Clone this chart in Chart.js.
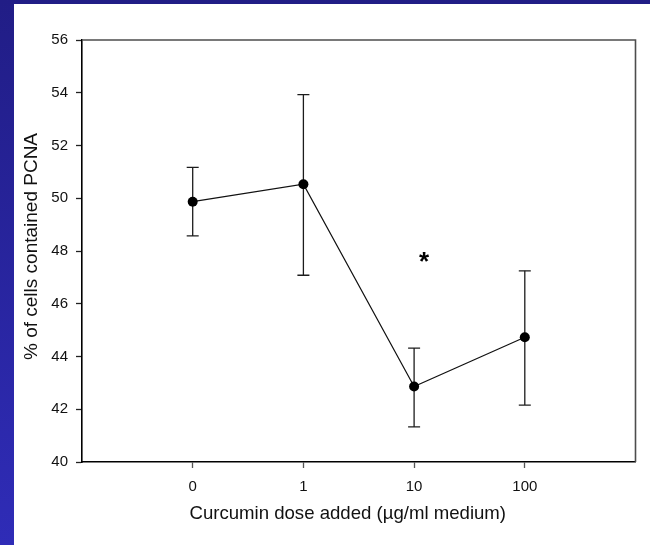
<!DOCTYPE html>
<html>
<head>
<meta charset="utf-8">
<script src="https://cdn.jsdelivr.net/npm/chart.js@4/dist/chart.umd.min.js"></script>
<style>
  html, body { margin: 0; padding: 0; }
  #frame {
    position: relative;
    width: 650px;
    height: 545px;
    background: linear-gradient(to bottom, #211d86, #2f2cb7);
    overflow: hidden;
  }
  #wrap {
    position: absolute;
    left: 14px;
    top: 4px;
    width: 636px;
    height: 541px;
    background: #ffffff;
  }
</style>
</head>
<body>
<div id="frame">
  <div id="wrap"><canvas id="chart" width="636" height="541"></canvas></div>
</div>
<script>
// Curcumin dose groups (µg/ml medium) and their tick labels
const doseLabels = ['0', '1', '10', '100'];
const dosePositions = [0, 1, 2, 3];

// Mean % of cells containing PCNA, with upper and lower error limits
const meanPCNA = [49.87, 50.53, 42.86, 44.73];
const upperPCNA = [51.17, 53.93, 44.32, 47.25];
const lowerPCNA = [48.57, 47.08, 41.33, 42.16];

// Y axis tick values
const yTicks = [40, 42, 44, 46, 48, 50, 52, 54, 56];

// Axis titles
const xTitle = 'Curcumin dose added (µg/ml medium)';
const yTitle = '% of cells contained PCNA';

// Significance mark placed above the 10 µg/ml group
const significanceMark = { text: '*', x: 2.09, y: 47.76 };

const FONT = "'Liberation Sans', Arial, Helvetica, sans-serif";

const mainData = dosePositions.map((x, i) => ({ x, y: meanPCNA[i] }));

const errorSets = dosePositions.map((x, i) => ({
  type: 'line',
  data: [{ x, y: lowerPCNA[i] }, { x, y: upperPCNA[i] }],
  showLine: true,
  borderColor: '#1c1c1c',
  borderWidth: 1.3,
  pointStyle: 'line',
  pointRadius: 6,
  pointBorderWidth: 1.3,
  pointBorderColor: '#1c1c1c',
  pointBackgroundColor: '#1c1c1c',
  pointHoverRadius: 6
}));

// Top and right edges of the frame, axis titles and the significance asterisk
const frameAndMarks = {
  id: 'frameAndMarks',
  afterDatasetsDraw(chart) {
    const { ctx, chartArea, scales } = chart;
    ctx.save();
    ctx.strokeStyle = '#4d4d4d';
    ctx.lineWidth = 1.6;
    ctx.beginPath();
    ctx.moveTo(chartArea.left, chartArea.top);
    ctx.lineTo(chartArea.right, chartArea.top);
    ctx.lineTo(chartArea.right, chartArea.bottom);
    ctx.stroke();

    const px = scales.x.getPixelForValue(significanceMark.x);
    const py = scales.y.getPixelForValue(significanceMark.y);
    ctx.font = 'bold 26px ' + FONT;
    ctx.fillStyle = '#000';
    ctx.textAlign = 'center';
    ctx.textBaseline = 'alphabetic';
    const m = ctx.measureText(significanceMark.text);
    const asc = m.actualBoundingBoxAscent;
    const desc = m.actualBoundingBoxDescent;
    ctx.fillText(significanceMark.text, px, py + (asc - desc) / 2);

    // x axis title
    ctx.fillStyle = '#111';
    ctx.font = '18.6px ' + FONT;
    ctx.textAlign = 'center';
    ctx.textBaseline = 'alphabetic';
    ctx.fillText(xTitle, (chartArea.left + chartArea.right) / 2 - 11, chartArea.bottom + 57.3);

    // y axis title, reading bottom to top
    ctx.font = '19px ' + FONT;
    ctx.translate(chartArea.left - 45.3, (chartArea.top + chartArea.bottom) / 2 - 4.5);
    ctx.rotate(-Math.PI / 2);
    ctx.fillText(yTitle, 0, 0);
    ctx.restore();
  }
};

new Chart(document.getElementById('chart'), {
  type: 'scatter',
  data: {
    datasets: [
      {
        type: 'line',
        data: mainData,
        showLine: true,
        borderColor: '#111',
        borderWidth: 1.2,
        pointRadius: 5,
        pointHoverRadius: 5,
        pointBackgroundColor: '#000',
        pointBorderColor: '#000',
        pointBorderWidth: 0
      },
      ...errorSets
    ]
  },
  options: {
    responsive: false,
    animation: false,
    events: [],
    layout: { padding: { top: 36, right: 14.5, left: 0, bottom: 0 } },
    plugins: {
      legend: { display: false },
      tooltip: { enabled: false }
    },
    scales: {
      x: {
        type: 'linear',
        min: -1,
        max: 4,
        afterBuildTicks(scale) {
          scale.ticks = dosePositions.map(v => ({ value: v }));
        },
        afterFit(scale) { scale.height = 83; },
        grid: {
          drawOnChartArea: false,
          drawTicks: true,
          tickLength: 6,
          tickColor: '#555',
          tickWidth: 1.3
        },
        border: { display: true, color: '#000', width: 1.6 },
        ticks: {
          padding: 10,
          color: '#111',
          font: { family: FONT, size: 15 },
          maxRotation: 0,
          callback(value) {
            const i = dosePositions.indexOf(value);
            return i >= 0 ? doseLabels[i] : '';
          }
        },
        title: { display: false }
      },
      y: {
        min: 40,
        max: 56,
        afterBuildTicks(scale) {
          scale.ticks = yTicks.map(v => ({ value: v }));
        },
        afterFit(scale) { scale.width = 68; },
        grid: {
          drawOnChartArea: false,
          drawTicks: true,
          tickLength: 6,
          tickColor: '#222',
          tickWidth: 1.3
        },
        border: { display: true, color: '#000', width: 1.6 },
        ticks: {
          padding: 8,
          color: '#111',
          font: { family: FONT, size: 15 },
          callback(value) { return String(value); }
        },
        title: { display: false }
      }
    }
  },
  plugins: [frameAndMarks]
});
</script>
</body>
</html>
